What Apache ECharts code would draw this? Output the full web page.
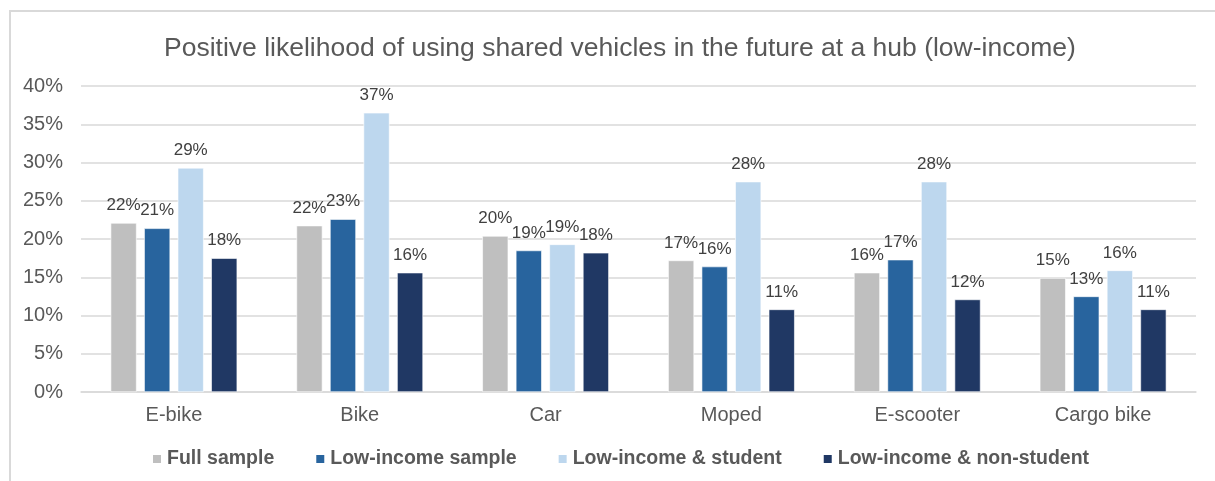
<!DOCTYPE html>
<html>
<head>
<meta charset="utf-8">
<script src="https://cdn.jsdelivr.net/npm/echarts@6/dist/echarts.min.js"></script>
<style>
  html, body { margin: 0; padding: 0; background: #fff; }
  #chart { width: 1215px; height: 481px; }
</style>
</head>
<body>
<div id="chart"></div>
<script>
// Share of respondents who would likely use shared vehicles at a hub (%)
const categories = ['E-bike', 'Bike', 'Car', 'Moped', 'E-scooter', 'Cargo bike'];
const seriesNames = ['Full sample', 'Low-income sample', 'Low-income & student', 'Low-income & non-student'];
const fullSample = [22.1, 21.75, 20.4, 17.2, 15.6, 14.9];
const lowIncomeSample = [21.4, 22.6, 18.5, 16.4, 17.3, 12.5];
const lowIncomeStudent = [29.3, 36.5, 19.3, 27.5, 27.5, 15.9];
const lowIncomeNonStudent = [17.5, 15.6, 18.2, 10.8, 12.1, 10.8];
const yTicks = { min: 0, max: 40, interval: 5 };

const colors = ['#BFBFBF', '#28649E', '#BDD7EE', '#203864'];
const seriesData = [fullSample, lowIncomeSample, lowIncomeStudent, lowIncomeNonStudent];
const FONT = 'Arial, "Liberation Sans", sans-serif';

const chart = echarts.init(document.getElementById('chart'), null, { renderer: 'canvas' });

chart.setOption({
  animation: false,
  backgroundColor: '#fff',
  title: {
    text: 'Positive likelihood of using shared vehicles in the future at a hub (low-income)',
    left: 159,
    top: 30,
    textStyle: { fontFamily: FONT, fontSize: 26.5, fontWeight: 'normal', color: '#595959' }
  },
  graphic: [{
    type: 'rect',
    silent: true,
    shape: { x: 10, y: 11, width: 1300, height: 600 },
    style: { fill: 'none', stroke: '#D9D9D9', lineWidth: 2 },
    z: -1
  }],
  legend: {
    data: seriesNames,
    left: 146,
    top: 444,
    icon: 'rect',
    itemWidth: 10,
    itemHeight: 10,
    itemGap: 40,
    textStyle: { fontFamily: FONT, fontSize: 19.5, fontWeight: 'bold', color: '#595959' }
  },
  grid: { left: 81, right: 19, top: 86, bottom: 89, containLabel: false },
  xAxis: {
    type: 'category',
    data: categories,
    axisLine: { lineStyle: { color: '#D9D9D9', width: 1.5 } },
    axisTick: { show: false },
    axisLabel: { fontFamily: FONT, fontSize: 20, color: '#595959', margin: 13 }
  },
  yAxis: {
    type: 'value',
    min: yTicks.min,
    max: yTicks.max,
    interval: yTicks.interval,
    axisLine: { show: false },
    axisTick: { show: false },
    axisLabel: { fontFamily: FONT, fontSize: 20, color: '#595959', margin: 18, formatter: '{value}%' },
    splitLine: { lineStyle: { color: '#D9D9D9', width: 1.5 } }
  },
  series: seriesNames.map((name, i) => ({
    name,
    type: 'bar',
    data: seriesData[i],
    barWidth: 26,
    barGap: '29%',
    itemStyle: { color: colors[i], borderColor: '#fff', borderWidth: 0.6 },
    label: {
      show: true,
      position: 'top',
      distance: 9,
      fontFamily: FONT,
      fontSize: 17,
      color: '#404040',
      formatter: p => Math.round(p.value) + '%'
    }
  }))
});
</script>
</body>
</html>
